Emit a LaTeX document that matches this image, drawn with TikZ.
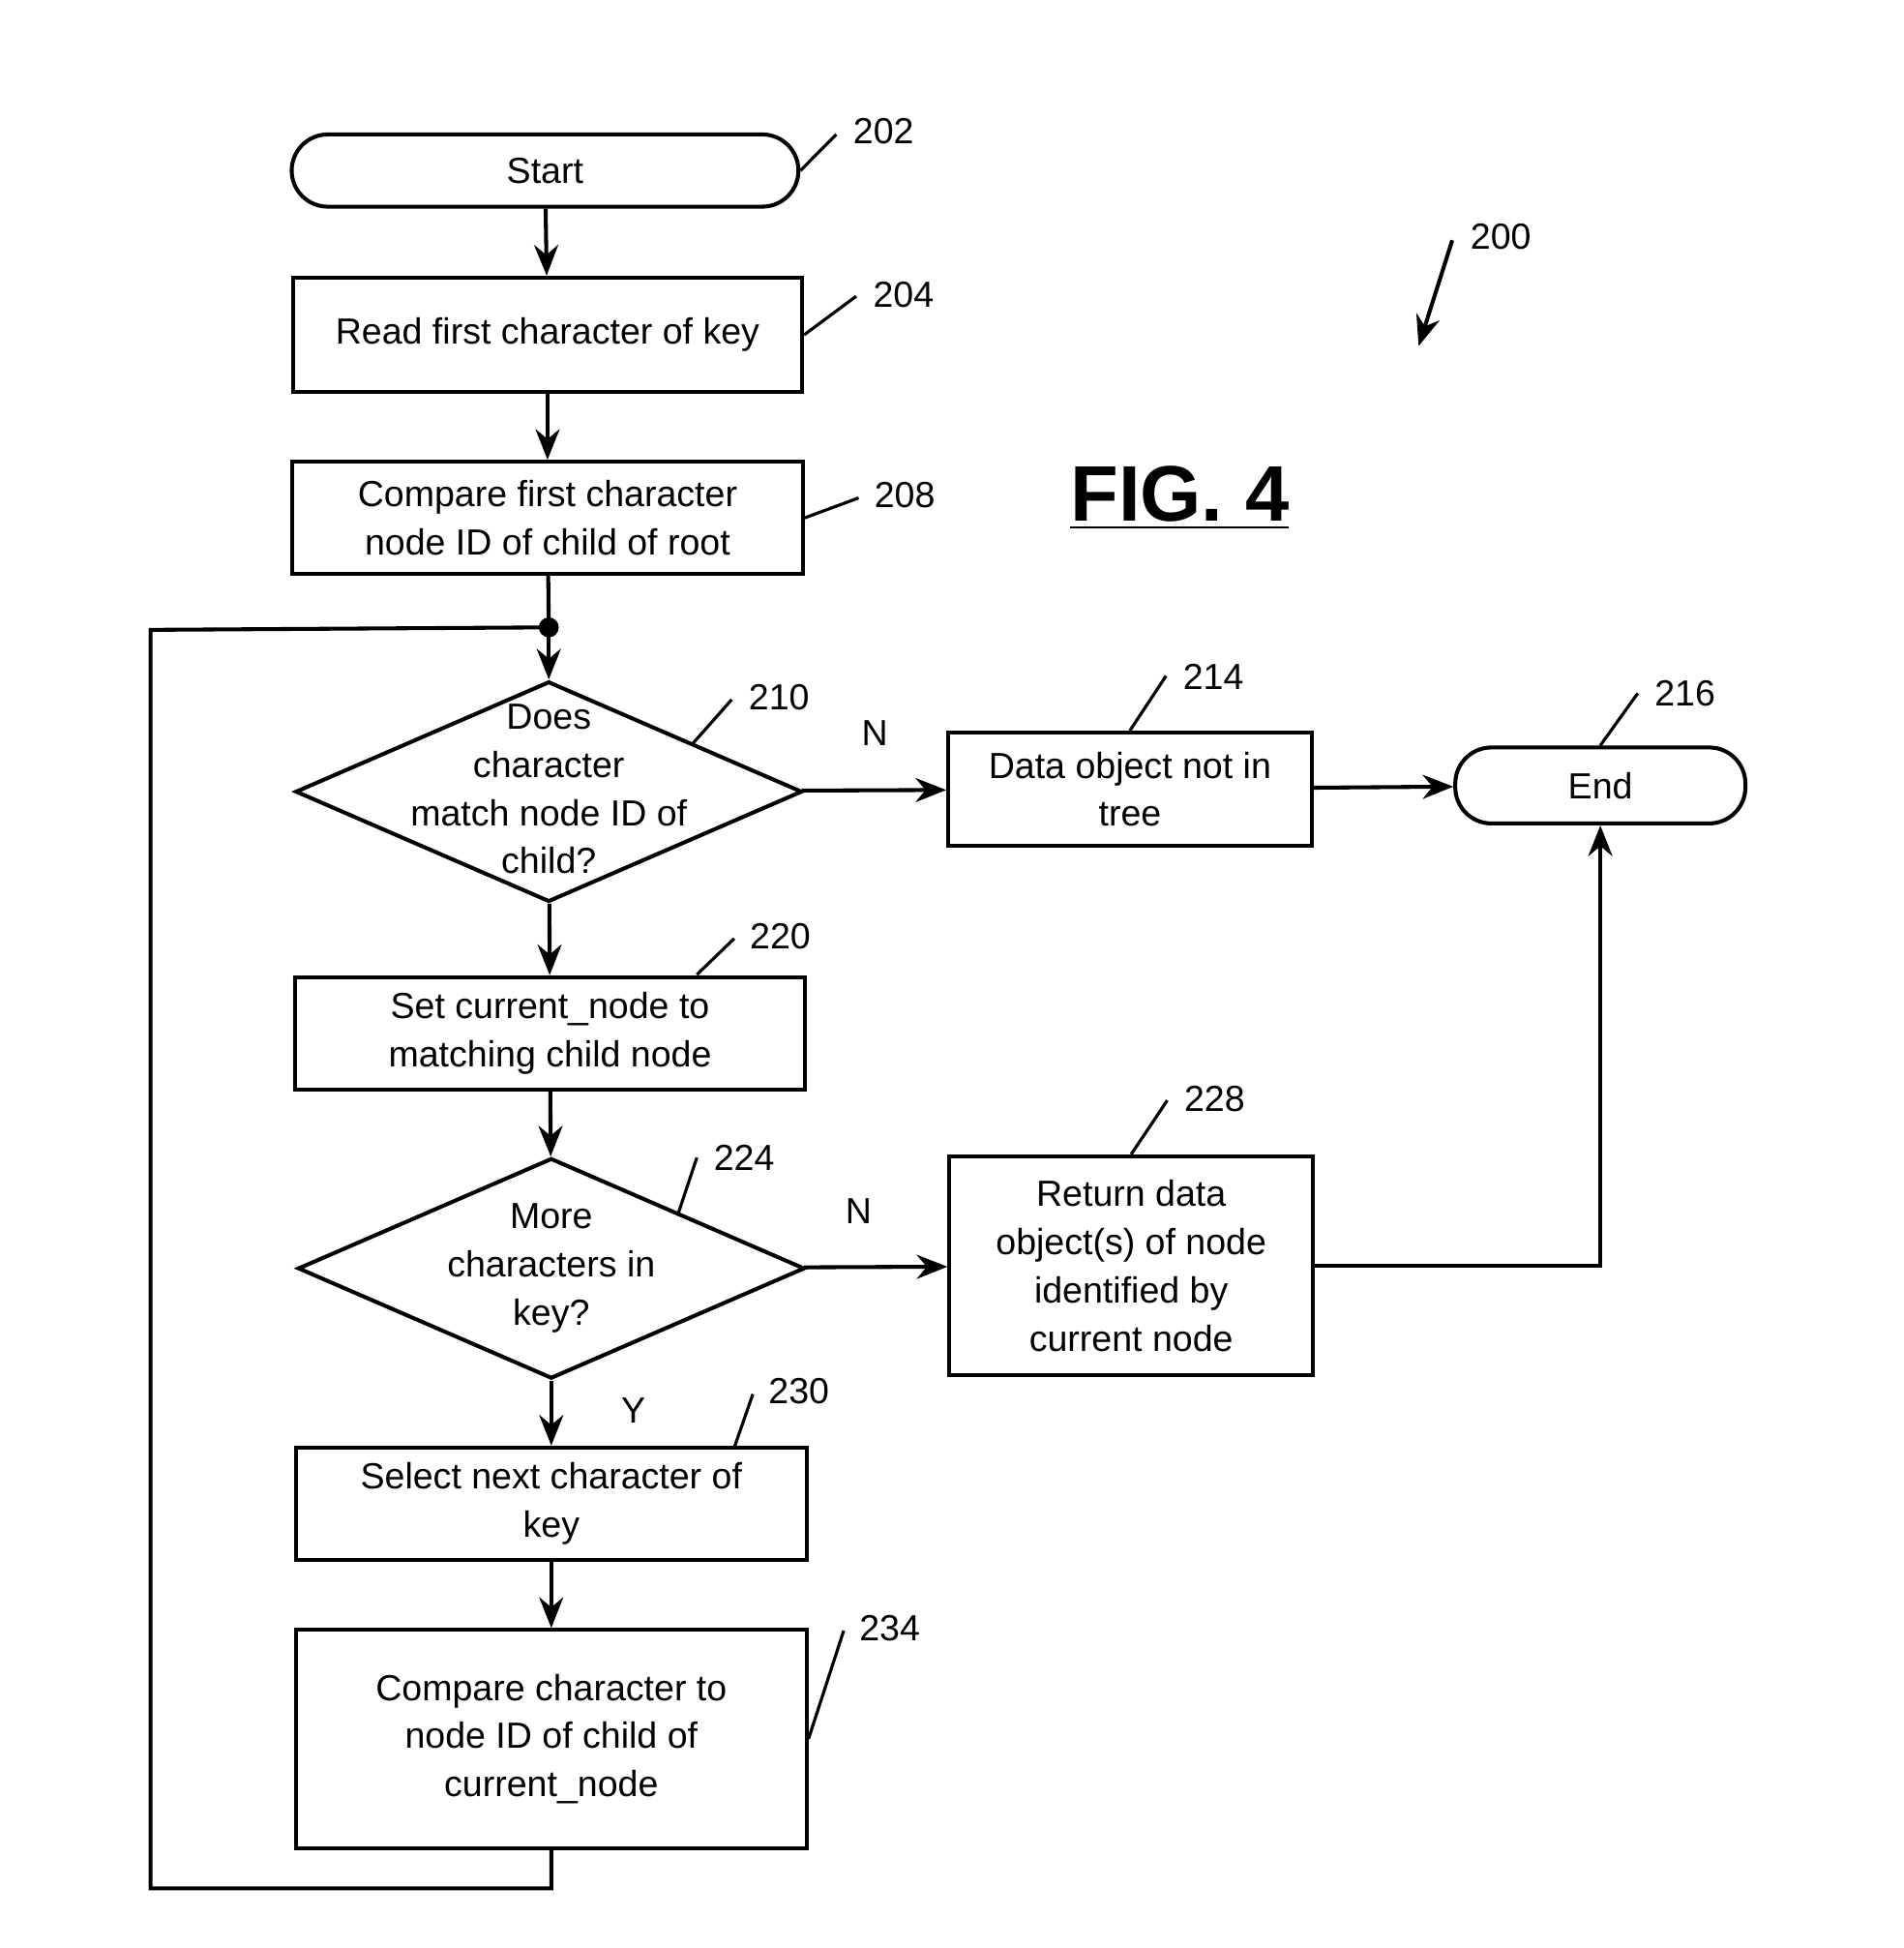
\documentclass[tikz,border=0pt]{standalone}
\usepackage{fontspec}
\setmainfont{Liberation Sans}
\usetikzlibrary{shapes.geometric,arrows.meta}
\tikzset{
  box/.style={draw,line width=0.9pt,align=center,inner sep=0pt},
  term/.style={box,rounded corners=0.29cm},
  dec/.style={draw,line width=0.9pt,diamond,inner sep=0pt,minimum width=4.07cm,minimum height=1.77cm},
  txt/.style={align=center,inner sep=0pt},
  flow/.style={line width=0.9pt,-{Stealth[length=7pt,width=5.5pt]}},
  lead/.style={line width=0.7pt},
  ref/.style={inner sep=0pt}
}
\begin{document}
\begin{tikzpicture}[x=0.01cm,y=-0.01cm,font=\fontsize{8.3}{11}\selectfont]
\useasboundingbox (0,0) rectangle (1530,1565);
% boxes
\node[term,minimum width=4.07cm,minimum height=0.58cm] (start) at (438,137) {Start};
\node[box,minimum width=4.09cm,minimum height=0.92cm] (b204) at (440,269) {Read first character of key};
\node[box,minimum width=4.10cm,minimum height=0.90cm] (b208) at (440,416) {Compare first character\\node ID of child of root};
\coordinate (dot) at (441,504);
\node[dec] (d210) at (441,636) {};
\node[txt] (d210t) at (441,634) {Does\\character\\match node ID of\\child?};
\node[box,minimum width=2.92cm,minimum height=0.91cm] (b214) at (908,634) {Data object not in\\tree};
\node[term,minimum width=2.33cm,minimum height=0.61cm] (end) at (1286,631) {End};
\node[box,minimum width=4.10cm,minimum height=0.90cm] (b220) at (442,830) {Set current\_node to\\matching child node};
\node[dec] (d224) at (443,1019) {};
\node[txt] (d224t) at (443,1019) {More\\characters in\\key?};
\node[box,minimum width=2.92cm,minimum height=1.76cm] (b228) at (909,1017) {Return data\\object(s) of node\\identified by\\current node};
\node[box,minimum width=4.10cm,minimum height=0.90cm] (b230) at (443,1208) {Select next character of\\key};
\node[box,minimum width=4.10cm,minimum height=1.75cm] (b234) at (443,1397) {Compare character to\\node ID of child of\\current\_node};
% flow
\draw[flow] (start) -- (b204);
\draw[flow] (b204) -- (b208);
\draw[line width=0.9pt] (b208) -- (dot);
\fill (dot) circle (8);
\draw[flow] (dot) -- (d210);
\draw[flow] (d210) -- (b214);
\draw[flow] (b214) -- (end);
\draw[flow] (d210) -- (b220);
\draw[flow] (b220) -- (d224);
\draw[flow] (d224) -- (b228);
\draw[flow] (b228.east) -| (end.south);
\draw[flow] (d224) -- (b230);
\draw[flow] (b230) -- (b234);
\draw[line width=0.9pt] (b234.south) -- ++(0,31) -| (121,506) -- (dot);
\node[ref] at (703,589) {N};
\node[ref] at (690,973) {N};
\node[ref] at (509,1133) {Y};
% reference numbers
\draw[lead] (start.east) -- (672,108); \node[ref] at (710,105) {202};
\draw[lead] (b204.east) -- (688,238); \node[ref] at (726,237) {204};
\draw[lead] (b208.east) -- (690,400); \node[ref] at (727,398) {208};
\draw[lead] (557,597) -- (588,562); \node[ref] at (626,560) {210};
\draw[lead] (b214.north) -- (937,543); \node[ref] at (975,544) {214};
\draw[lead] (end.north) -- (1316,557); \node[ref] at (1354,557) {216};
\draw[lead] (560,783) -- (590,754); \node[ref] at (627,752) {220};
\draw[lead] (545,975) -- (560,930); \node[ref] at (598,930) {224};
\draw[lead] (b228.north) -- (938,884); \node[ref] at (976,883) {228};
\draw[lead] (590,1163) -- (605,1120); \node[ref] at (642,1118) {230};
\draw[lead] (b234.east) -- (678,1310); \node[ref] at (715,1308) {234};
\coordinate (c200) at (1167,193);
\draw[flow] (c200) -- (1140,278); \node[ref] at (1206,190) {200};
\node[ref,font=\fontsize{18}{20}\bfseries] at (948,400) {\underline{FIG. 4}};
\end{tikzpicture}
\end{document}
